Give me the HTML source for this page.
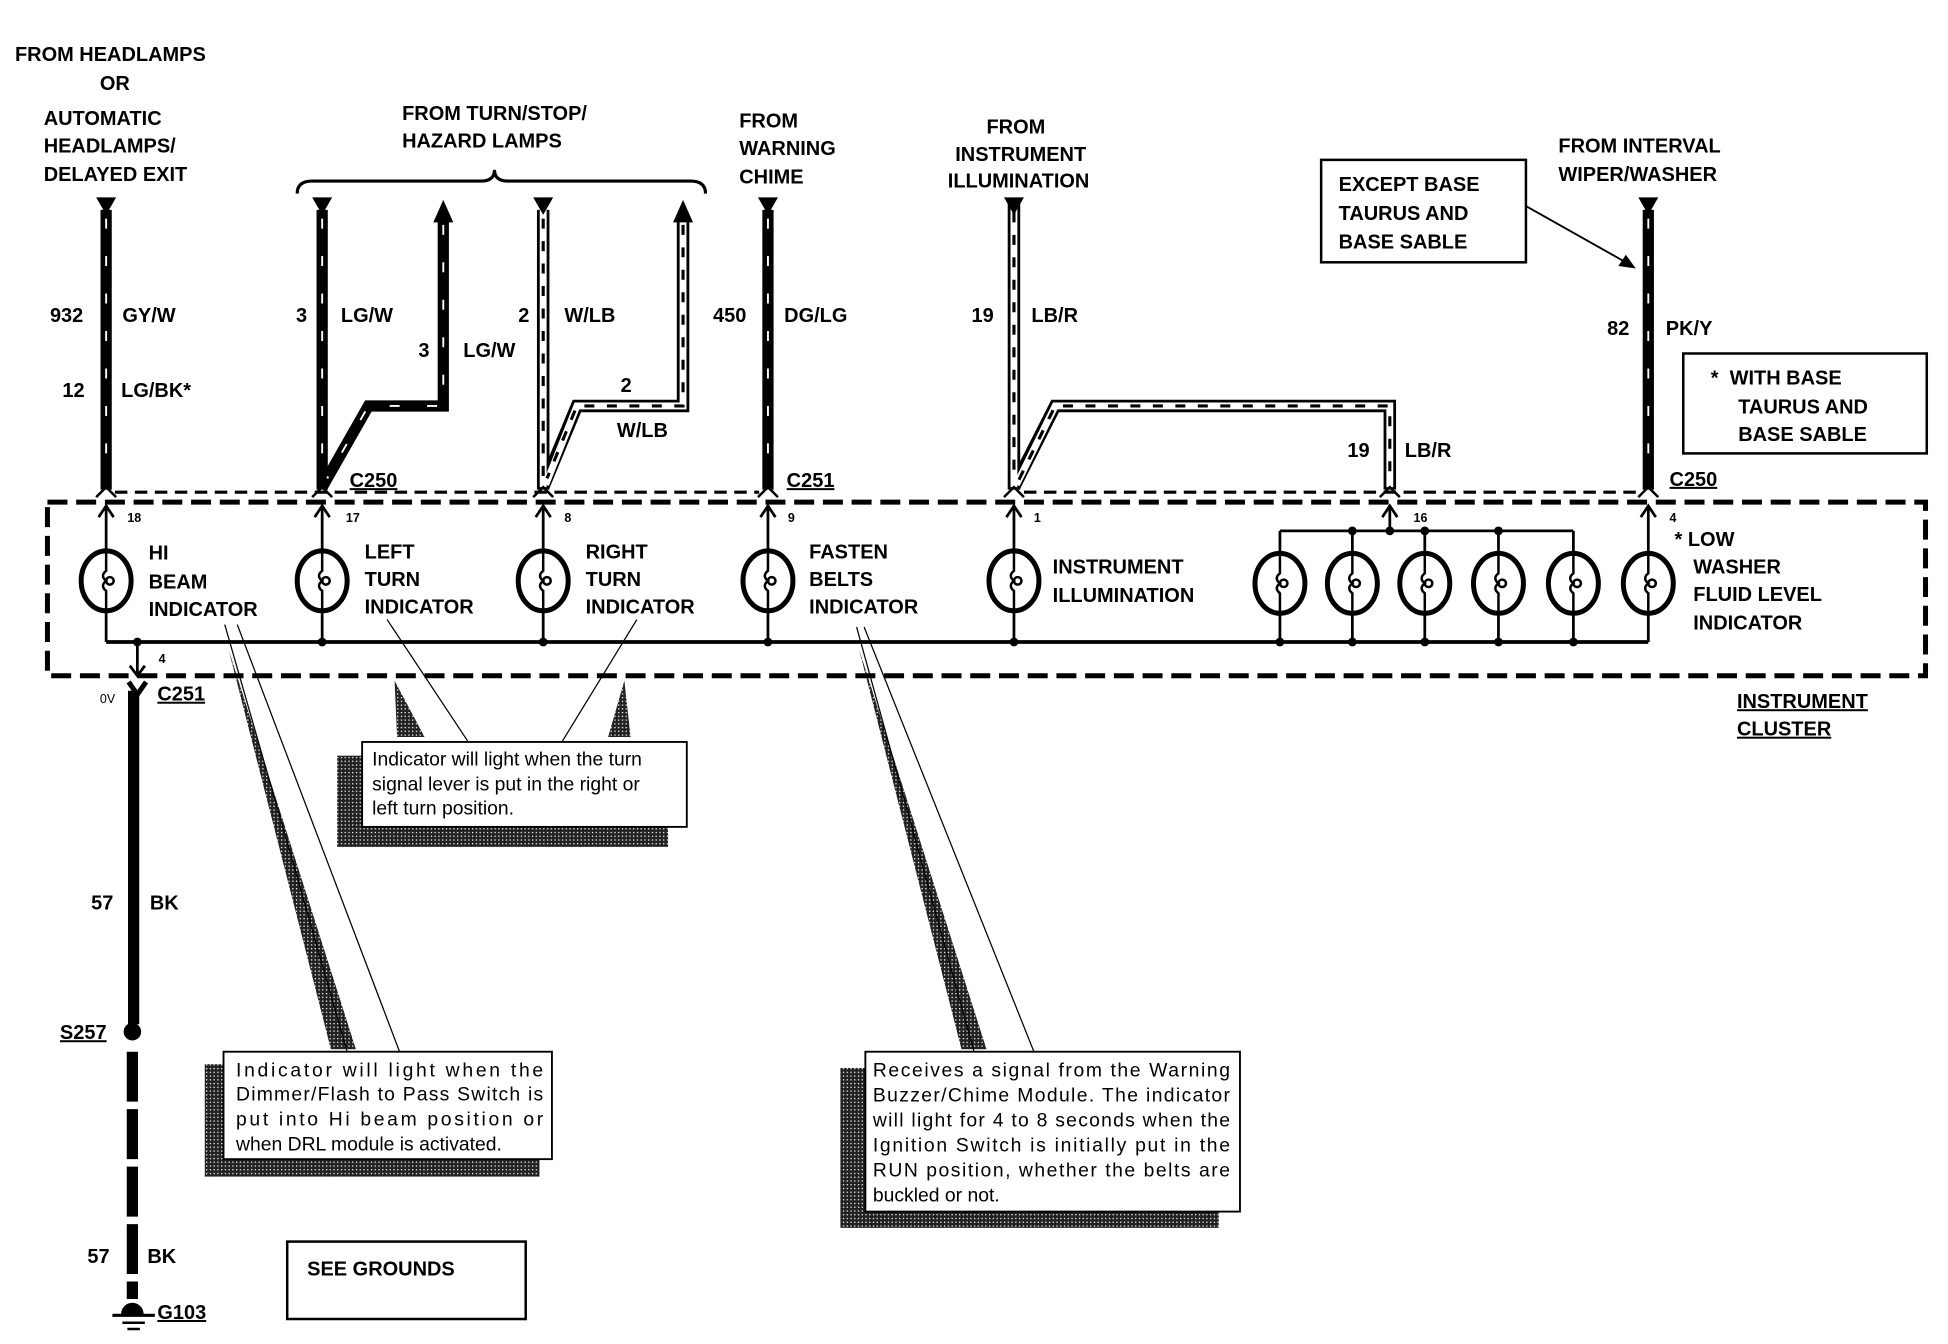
<!DOCTYPE html>
<html><head><meta charset="utf-8"><style>
html,body{margin:0;padding:0;background:#fff;}
svg{display:block;}
text{font-family:"Liberation Sans",Arial,sans-serif;font-weight:bold;font-size:16px;fill:#000;}
.n{font-weight:normal;font-size:15.5px;}
.s{font-size:10px;}
.u{text-decoration:underline;}
</style></head><body>
<svg width="1948" height="1344" viewBox="0 0 1560 1076" preserveAspectRatio="none" xmlns="http://www.w3.org/2000/svg">
<defs>
<pattern id="dots" width="3" height="3" patternUnits="userSpaceOnUse"><rect width="3" height="3" fill="#222"/><rect width="1" height="1" fill="#fff"/></pattern>
</defs>
<!-- callout wedges/shadows -->
<polygon points="183,520 265,840 285,840" fill="url(#dots)"/>
<polygon points="316,545 318,590 340,590" fill="url(#dots)"/>
<polygon points="500,545 487,590 505,590" fill="url(#dots)"/>
<polygon points="688,520 770,840 790,840" fill="url(#dots)"/>
<rect x="270" y="605" width="265" height="73" fill="url(#dots)"/>
<rect x="164" y="852" width="268" height="90" fill="url(#dots)"/>
<rect x="673" y="855" width="303" height="128" fill="url(#dots)"/>
<g stroke="#000" stroke-width="1" fill="none">
<line x1="180" y1="500" x2="278" y2="842"/><line x1="190" y1="500" x2="320" y2="842"/>
<line x1="310" y1="496" x2="375" y2="594"/><line x1="510" y1="496" x2="450" y2="594"/>
<line x1="686" y1="502" x2="780" y2="842"/><line x1="692" y1="502" x2="828" y2="842"/>
</g>
<rect x="290" y="594" width="260" height="68" fill="#fff" stroke="#000" stroke-width="1.5"/>
<rect x="179" y="842" width="263" height="86" fill="#fff" stroke="#000" stroke-width="1.5"/>
<rect x="693" y="842" width="300" height="128" fill="#fff" stroke="#000" stroke-width="1.5"/>
<rect x="230" y="994" width="191" height="62" fill="#fff" stroke="#000" stroke-width="2"/>
<rect x="1058" y="128" width="164" height="82" fill="#fff" stroke="#000" stroke-width="2"/>
<rect x="1348" y="283" width="195" height="80" fill="#fff" stroke="#000" stroke-width="2"/>
<line x1="1222" y1="165" x2="1302" y2="210" stroke="#000" stroke-width="1.5"/>
<polygon points="1310,215 1296,213 1302,204" fill="#000"/>
<!-- brace -->
<path d="M238,155 Q238,145 250,145 L385,145 Q396,145 396,136 Q396,145 407,145 L553,145 Q565,145 565,155" fill="none" stroke="#000" stroke-width="2.5"/>
<!-- black wires -->
<g fill="none" stroke-linejoin="miter">
<g stroke="#000" stroke-width="9">
<path d="M85,168 V392"/><path d="M258,168 V392"/><path d="M355,175 V325 H295 L258,390"/>
<path d="M615,168 V392"/><path d="M1320,168 V392"/>
</g>
<g stroke="#fff" stroke-width="1.5" stroke-dasharray="8 22">
<path d="M85,175 V385"/><path d="M258,175 V385"/><path d="M355,180 V325 H295 L262,383"/>
<path d="M615,175 V385"/><path d="M1320,175 V385"/>
</g>
<g stroke="#000" stroke-width="10">
<path d="M435,168 V392"/><path d="M547,175 V325 H462 L435,390"/>
<path d="M812,160 V392"/><path d="M812,390 L845,325 H1113 V392"/>
</g>
<g stroke="#fff" stroke-width="5.5">
<path d="M435,168 V390"/><path d="M547,175 V325 H462 L437,388"/>
<path d="M812,160 V390"/><path d="M814,388 L845,325 H1113 V390"/>
</g>
<g stroke="#000" stroke-width="2.5" stroke-dasharray="8 10">
<path d="M435,175 V385"/><path d="M547,180 V325 H462 L438,383"/>
<path d="M812,170 V385"/><path d="M816,384 L845,325 H1113 V385"/>
</g>
</g>
<!-- arrowheads top -->
<g fill="#000">
<polygon points="77,158 93,158 85,172"/><polygon points="250,158 266,158 258,172"/>
<polygon points="347,178 363,178 355,160"/><polygon points="427,158 443,158 435,172"/>
<polygon points="539,178 555,178 547,160"/><polygon points="607,158 623,158 615,172"/>
<polygon points="804,158 820,158 812,172"/><polygon points="1312,158 1328,158 1320,172"/>
</g>
<!-- connector dashes -->
<g stroke="#000" stroke-width="2.5" stroke-dasharray="10 6" fill="none">
<line x1="92" y1="394" x2="608" y2="394"/><line x1="820" y1="394" x2="1312" y2="394"/>
</g>
<g stroke="#000" stroke-width="2" fill="none">
<path d="M77,398 L85,390 L93,398"/><path d="M250,398 L258,390 L266,398"/><path d="M427,398 L435,390 L443,398"/>
<path d="M607,398 L615,390 L623,398"/><path d="M804,398 L812,390 L820,398"/><path d="M1105,398 L1113,390 L1121,398"/><path d="M1312,398 L1320,390 L1328,398"/>
</g>
<!-- cluster box -->
<rect x="38" y="402" width="1504" height="139" fill="none" stroke="#000" stroke-width="4" stroke-dasharray="16 7"/>
<!-- internal -->
<g stroke="#000" stroke-width="2.2" fill="none">
<line x1="85" y1="406" x2="85" y2="514"/><line x1="258" y1="406" x2="258" y2="514"/><line x1="435" y1="406" x2="435" y2="514"/>
<line x1="615" y1="406" x2="615" y2="514"/><line x1="812" y1="406" x2="812" y2="514"/><line x1="1320" y1="406" x2="1320" y2="514"/>
<line x1="1113" y1="406" x2="1113" y2="425"/>
<line x1="1025" y1="425" x2="1260" y2="425"/>
<line x1="1025" y1="425" x2="1025" y2="514"/><line x1="1083" y1="425" x2="1083" y2="514"/><line x1="1141" y1="425" x2="1141" y2="514"/><line x1="1200" y1="425" x2="1200" y2="514"/><line x1="1260" y1="425" x2="1260" y2="514"/>
<line x1="85" y1="514" x2="1320" y2="514" stroke-width="3"/>
<line x1="110" y1="514" x2="110" y2="540"/>
<path d="M79,414 L85,405 L91,414"/><path d="M252,414 L258,405 L264,414"/><path d="M429,414 L435,405 L441,414"/><path d="M609,414 L615,405 L621,414"/><path d="M806,414 L812,405 L818,414"/><path d="M1107,414 L1113,405 L1119,414"/><path d="M1314,414 L1320,405 L1326,414"/>
<path d="M104,533 L110,541 L116,533"/>
</g>
<g fill="#000">
<circle cx="110" cy="514" r="3.5"/><circle cx="258" cy="514" r="3.5"/><circle cx="435" cy="514" r="3.5"/><circle cx="615" cy="514" r="3.5"/><circle cx="812" cy="514" r="3.5"/>
<circle cx="1025" cy="514" r="3.5"/><circle cx="1083" cy="514" r="3.5"/><circle cx="1141" cy="514" r="3.5"/><circle cx="1200" cy="514" r="3.5"/><circle cx="1260" cy="514" r="3.5"/>
<circle cx="1083" cy="425" r="3.5"/><circle cx="1113" cy="425" r="3.5"/><circle cx="1141" cy="425" r="3.5"/><circle cx="1200" cy="425" r="3.5"/>
</g>
<!-- bulbs -->
<g id="bulbs" stroke="#000" fill="#fff">
<g transform="translate(85,465)"><ellipse rx="20" ry="24" stroke-width="4"/><path d="M0,-24 V-8 Q-5,-4 0,0 Q-5,4 0,8 V24" fill="none" stroke-width="2"/><circle cx="3" r="3" fill="none" stroke-width="2"/></g>
<g transform="translate(258,465)"><ellipse rx="20" ry="24" stroke-width="4"/><path d="M0,-24 V-8 Q-5,-4 0,0 Q-5,4 0,8 V24" fill="none" stroke-width="2"/><circle cx="3" r="3" fill="none" stroke-width="2"/></g>
<g transform="translate(435,465)"><ellipse rx="20" ry="24" stroke-width="4"/><path d="M0,-24 V-8 Q-5,-4 0,0 Q-5,4 0,8 V24" fill="none" stroke-width="2"/><circle cx="3" r="3" fill="none" stroke-width="2"/></g>
<g transform="translate(615,465)"><ellipse rx="20" ry="24" stroke-width="4"/><path d="M0,-24 V-8 Q-5,-4 0,0 Q-5,4 0,8 V24" fill="none" stroke-width="2"/><circle cx="3" r="3" fill="none" stroke-width="2"/></g>
<g transform="translate(812,465)"><ellipse rx="20" ry="24" stroke-width="4"/><path d="M0,-24 V-8 Q-5,-4 0,0 Q-5,4 0,8 V24" fill="none" stroke-width="2"/><circle cx="3" r="3" fill="none" stroke-width="2"/></g>
<g transform="translate(1025,467)"><ellipse rx="20" ry="24" stroke-width="4"/><path d="M0,-24 V-8 Q-5,-4 0,0 Q-5,4 0,8 V24" fill="none" stroke-width="2"/><circle cx="3" r="3" fill="none" stroke-width="2"/></g>
<g transform="translate(1083,467)"><ellipse rx="20" ry="24" stroke-width="4"/><path d="M0,-24 V-8 Q-5,-4 0,0 Q-5,4 0,8 V24" fill="none" stroke-width="2"/><circle cx="3" r="3" fill="none" stroke-width="2"/></g>
<g transform="translate(1141,467)"><ellipse rx="20" ry="24" stroke-width="4"/><path d="M0,-24 V-8 Q-5,-4 0,0 Q-5,4 0,8 V24" fill="none" stroke-width="2"/><circle cx="3" r="3" fill="none" stroke-width="2"/></g>
<g transform="translate(1200,467)"><ellipse rx="20" ry="24" stroke-width="4"/><path d="M0,-24 V-8 Q-5,-4 0,0 Q-5,4 0,8 V24" fill="none" stroke-width="2"/><circle cx="3" r="3" fill="none" stroke-width="2"/></g>
<g transform="translate(1260,467)"><ellipse rx="20" ry="24" stroke-width="4"/><path d="M0,-24 V-8 Q-5,-4 0,0 Q-5,4 0,8 V24" fill="none" stroke-width="2"/><circle cx="3" r="3" fill="none" stroke-width="2"/></g>
<g transform="translate(1320,467)"><ellipse rx="20" ry="24" stroke-width="4"/><path d="M0,-24 V-8 Q-5,-4 0,0 Q-5,4 0,8 V24" fill="none" stroke-width="2"/><circle cx="3" r="3" fill="none" stroke-width="2"/></g>
</g>
<!-- ground wire -->
<path d="M103,546 L110,556 L117,546" fill="none" stroke="#000" stroke-width="4"/>
<line x1="107" y1="553" x2="107" y2="820" stroke="#000" stroke-width="9"/>
<circle cx="106" cy="826" r="7" fill="#000"/>
<line x1="106" y1="842" x2="106" y2="1040" stroke="#000" stroke-width="9" stroke-dasharray="40 6"/>
<path d="M97,1052 A9,9 0 0 1 115,1052 Z" fill="#000"/>
<line x1="90" y1="1053" x2="124" y2="1053" stroke="#000" stroke-width="2.5"/>
<line x1="98" y1="1059" x2="116" y2="1059" stroke="#000" stroke-width="2"/>
<line x1="102" y1="1064" x2="112" y2="1064" stroke="#000" stroke-width="2"/>
<!-- texts -->
<text x="12" y="49">FROM HEADLAMPS</text>
<text x="80" y="72">OR</text>
<text x="35" y="100">AUTOMATIC</text>
<text x="35" y="122">HEADLAMPS/</text>
<text x="35" y="145">DELAYED EXIT</text>
<text x="322" y="96">FROM TURN/STOP/</text>
<text x="322" y="118">HAZARD LAMPS</text>
<text x="592" y="102">FROM</text>
<text x="592" y="124">WARNING</text>
<text x="592" y="147">CHIME</text>
<text x="790" y="107">FROM</text>
<text x="765" y="129">INSTRUMENT</text>
<text x="759" y="150">ILLUMINATION</text>
<text x="1072" y="153">EXCEPT BASE</text>
<text x="1072" y="176">TAURUS AND</text>
<text x="1072" y="199">BASE SABLE</text>
<text x="1248" y="122">FROM INTERVAL</text>
<text x="1248" y="145">WIPER/WASHER</text>
<text x="1370" y="308">*&#160;&#160;WITH BASE</text>
<text x="1392" y="331">TAURUS AND</text>
<text x="1392" y="353">BASE SABLE</text>
<text x="40" y="258">932</text><text x="98" y="258">GY/W</text>
<text x="50" y="318">12</text><text x="97" y="318">LG/BK*</text>
<text x="237" y="258">3</text><text x="273" y="258">LG/W</text>
<text x="335" y="286">3</text><text x="371" y="286">LG/W</text>
<text x="415" y="258">2</text><text x="452" y="258">W/LB</text>
<text x="497" y="314">2</text><text x="494" y="350">W/LB</text>
<text x="571" y="258">450</text><text x="628" y="258">DG/LG</text>
<text x="778" y="258">19</text><text x="826" y="258">LB/R</text>
<text x="1079" y="366">19</text><text x="1125" y="366">LB/R</text>
<text x="1287" y="268">82</text><text x="1334" y="268">PK/Y</text>
<text x="280" y="390" class="u">C250</text>
<text x="630" y="390" class="u">C251</text>
<text x="1337" y="389" class="u">C250</text>
<text x="102" y="418" class="s">18</text><text x="277" y="418" class="s">17</text><text x="452" y="418" class="s">8</text>
<text x="631" y="418" class="s">9</text><text x="828" y="418" class="s">1</text><text x="1132" y="418" class="s">16</text>
<text x="1337" y="418" class="s">4</text><text x="127" y="531" class="s">4</text>
<text x="80" y="563" class="s" style="font-weight:normal">0V</text>
<text x="119" y="448">HI</text><text x="119" y="471">BEAM</text><text x="119" y="493">INDICATOR</text>
<text x="292" y="447">LEFT</text><text x="292" y="469">TURN</text><text x="292" y="491">INDICATOR</text>
<text x="469" y="447">RIGHT</text><text x="469" y="469">TURN</text><text x="469" y="491">INDICATOR</text>
<text x="648" y="447">FASTEN</text><text x="648" y="469">BELTS</text><text x="648" y="491">INDICATOR</text>
<text x="843" y="459">INSTRUMENT</text><text x="843" y="482">ILLUMINATION</text>
<text x="1341" y="437">* LOW</text><text x="1356" y="459">WASHER</text><text x="1356" y="481">FLUID LEVEL</text><text x="1356" y="504">INDICATOR</text>
<text x="1391" y="567" class="u">INSTRUMENT</text><text x="1391" y="589" class="u">CLUSTER</text>
<text x="126" y="561" class="u">C251</text>
<text x="73" y="728">57</text><text x="120" y="728">BK</text>
<text x="48" y="832" class="u">S257</text>
<text x="70" y="1011">57</text><text x="118" y="1011">BK</text>
<text x="126" y="1056" class="u">G103</text>
<text x="246" y="1021">SEE GROUNDS</text>
<text class="n" x="298" y="613">Indicator will light when the turn</text>
<text class="n" x="298" y="633">signal lever is put in the right or</text>
<text class="n" x="298" y="652">left turn position.</text>
<text class="n" x="189" y="862" textLength="246">Indicator will light when the</text>
<text class="n" x="189" y="881" textLength="246">Dimmer/Flash to Pass Switch is</text>
<text class="n" x="189" y="901" textLength="246">put into Hi beam position or</text>
<text class="n" x="189" y="921">when DRL module is activated.</text>
<text class="n" x="699" y="862" textLength="286">Receives a signal from the Warning</text>
<text class="n" x="699" y="882" textLength="286">Buzzer/Chime Module. The indicator</text>
<text class="n" x="699" y="902" textLength="286">will light for 4 to 8 seconds when the</text>
<text class="n" x="699" y="922" textLength="286">Ignition Switch is initially put in the</text>
<text class="n" x="699" y="942" textLength="286">RUN position, whether the belts are</text>
<text class="n" x="699" y="962">buckled or not.</text>
</svg>
</body></html>
